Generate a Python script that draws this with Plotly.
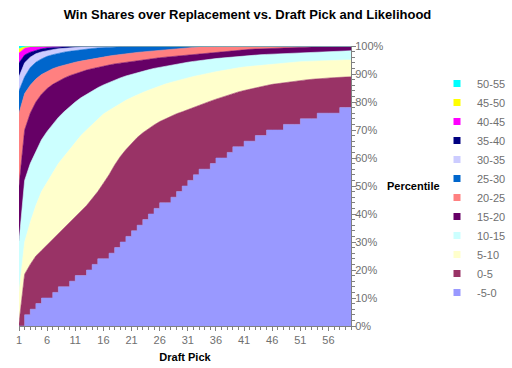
import plotly.graph_objects as go

# Draft picks 1..60
picks = [1, 2, 3, 4, 5, 6, 7, 8, 9, 10,
         11, 12, 13, 14, 15, 16, 17, 18, 19, 20,
         21, 22, 23, 24, 25, 26, 27, 28, 29, 30,
         31, 32, 33, 34, 35, 36, 37, 38, 39, 40,
         41, 42, 43, 44, 45, 46, 47, 48, 49, 50,
         51, 52, 53, 54, 55, 56, 57, 58, 59, 60]

# Cumulative percentile (top edge of each band) per draft pick
cum_m5_0 = [0, 4, 6, 8, 10, 10, 12, 14, 14, 16,
            18, 18, 20, 22, 24, 24, 26, 28, 30, 32,
            34, 36, 38, 40, 42, 44, 44, 46, 48, 50,
            52, 54, 56, 56, 58, 60, 60, 62, 64, 64,
            66, 66, 68, 68, 70, 70, 70, 72, 72, 72,
            74, 74, 74, 76, 76, 76, 76, 78, 78, 78]
cum_0_5 = [1, 18.5, 22, 25, 27, 29, 31, 33, 35, 37,
           39, 41, 43, 45.5, 48, 51, 54, 57.5, 60.5, 63,
           65.3, 67.3, 69, 70.5, 71.8, 73, 74, 75, 75.8, 76.5,
           77.3, 78, 78.8, 79.6, 80.3, 81, 81.7, 82.3, 83, 83.6,
           84.1, 84.6, 85.1, 85.5, 85.9, 86.3, 86.6, 86.9, 87.2, 87.5,
           87.7, 87.9, 88.1, 88.3, 88.5, 88.6, 88.7, 88.8, 88.9, 89]
cum_5_10 = [12, 30, 37, 43, 48, 51.5, 55, 58, 60.5, 63,
            65.5, 68, 70, 72, 74, 75.7, 77, 78.3, 79.5, 80.6,
            81.6, 82.6, 83.4, 84.2, 85, 85.7, 86.4, 87, 87.6, 88.1,
            88.6, 89.1, 89.6, 90, 90.4, 90.8, 91.2, 91.5, 91.9, 92.2,
            92.5, 92.7, 93, 93.2, 93.4, 93.6, 93.8, 94, 94.1, 94.3,
            94.4, 94.5, 94.6, 94.7, 94.8, 94.85, 94.9, 94.95, 95, 95]
cum_10_15 = [30, 52, 58, 62.5, 66.5, 69.5, 72, 74.5, 76.5, 78.3,
             80, 81.5, 82.8, 84, 85.1, 86.1, 87, 87.8, 88.6, 89.3,
             89.9, 90.5, 91, 91.5, 92, 92.4, 92.8, 93.2, 93.5, 93.9,
             94.2, 94.5, 94.8, 95, 95.3, 95.5, 95.7, 95.9, 96.1, 96.3,
             96.45, 96.6, 96.75, 96.9, 97, 97.1, 97.2, 97.3, 97.4, 97.5,
             97.6, 97.7, 97.8, 97.9, 98, 98.05, 98.1, 98.15, 98.2, 98.3]
cum_15_20 = [50, 70, 76, 80, 82.8, 84.8, 86.3, 87.5, 88.5, 89.4,
             90.1, 90.8, 91.4, 91.9, 92.4, 92.8, 93.2, 93.6, 93.9, 94.2,
             94.5, 94.8, 95.1, 95.3, 95.6, 95.8, 96, 96.2, 96.4, 96.6,
             96.8, 97, 97.2, 97.4, 97.6, 97.8, 98, 98.2, 98.4, 98.6,
             98.7, 98.8, 98.9, 99, 99.1, 99.2, 99.3, 99.35, 99.4, 99.45,
             99.5, 99.55, 99.6, 99.65, 99.7, 99.7, 99.75, 99.75, 99.8, 99.8]
cum_20_25 = [76, 83, 86, 88.2, 89.8, 91, 91.9, 92.6, 93.2, 93.7,
             94.2, 94.6, 95, 95.4, 95.8, 96.1, 96.4, 96.7, 97, 97.3,
             97.5, 97.7, 97.9, 98.1, 98.3, 98.5, 98.7, 98.9, 99.05, 99.2,
             99.35, 99.5, 99.6, 99.7, 99.75, 99.8, 99.85, 99.9, 99.9, 99.9,
             99.9, 99.92, 99.94, 99.96, 99.98, 100, 100, 100, 100, 100,
             100, 100, 100, 100, 100, 100, 100, 100, 100, 100]
cum_25_30 = [84, 89, 92.3, 94.2, 95.4, 96.3, 96.9, 97.4, 97.8, 98.1,
             98.4, 98.7, 98.9, 99.1, 99.3, 99.45, 99.6, 99.7, 99.8, 99.85,
             99.9, 99.9, 99.92, 99.94, 99.96, 99.98, 100, 100, 100, 100,
             100, 100, 100, 100, 100, 100, 100, 100, 100, 100,
             100, 100, 100, 100, 100, 100, 100, 100, 100, 100,
             100, 100, 100, 100, 100, 100, 100, 100, 100, 100]
cum_30_35 = [89, 94, 96, 97.2, 97.9, 98.4, 98.7, 99, 99.2, 99.35,
             99.5, 99.6, 99.7, 99.8, 99.85, 99.9, 99.92, 99.94, 99.96, 99.98,
             100, 100, 100, 100, 100, 100, 100, 100, 100, 100,
             100, 100, 100, 100, 100, 100, 100, 100, 100, 100,
             100, 100, 100, 100, 100, 100, 100, 100, 100, 100,
             100, 100, 100, 100, 100, 100, 100, 100, 100, 100]
cum_35_40 = [94, 96.8, 97.8, 98.5, 99, 99.3, 99.5, 99.7, 99.8, 99.85,
             99.9, 99.92, 99.94, 99.96, 99.98, 100, 100, 100, 100, 100,
             100, 100, 100, 100, 100, 100, 100, 100, 100, 100,
             100, 100, 100, 100, 100, 100, 100, 100, 100, 100,
             100, 100, 100, 100, 100, 100, 100, 100, 100, 100,
             100, 100, 100, 100, 100, 100, 100, 100, 100, 100]
cum_40_45 = [97.5, 99.2, 99.6, 99.8, 99.9, 99.95, 100, 100, 100, 100,
             100, 100, 100, 100, 100, 100, 100, 100, 100, 100,
             100, 100, 100, 100, 100, 100, 100, 100, 100, 100,
             100, 100, 100, 100, 100, 100, 100, 100, 100, 100,
             100, 100, 100, 100, 100, 100, 100, 100, 100, 100,
             100, 100, 100, 100, 100, 100, 100, 100, 100, 100]
cum_45_50 = [99, 99.7, 99.9, 100, 100, 100, 100, 100, 100, 100,
             100, 100, 100, 100, 100, 100, 100, 100, 100, 100,
             100, 100, 100, 100, 100, 100, 100, 100, 100, 100,
             100, 100, 100, 100, 100, 100, 100, 100, 100, 100,
             100, 100, 100, 100, 100, 100, 100, 100, 100, 100,
             100, 100, 100, 100, 100, 100, 100, 100, 100, 100]
cum_50_55 = [100, 100, 100, 100, 100, 100, 100, 100, 100, 100,
             100, 100, 100, 100, 100, 100, 100, 100, 100, 100,
             100, 100, 100, 100, 100, 100, 100, 100, 100, 100,
             100, 100, 100, 100, 100, 100, 100, 100, 100, 100,
             100, 100, 100, 100, 100, 100, 100, 100, 100, 100,
             100, 100, 100, 100, 100, 100, 100, 100, 100, 100]

band_names = ["-5-0", "0-5", "5-10", "10-15", "15-20", "20-25",
              "25-30", "30-35", "35-40", "40-45", "45-50", "50-55"]
band_colors = ["#9999FF", "#993366", "#FFFFCC", "#CCFFFF", "#660066", "#FF8080",
               "#0066CC", "#CCCCFF", "#000080", "#FF00FF", "#FFFF00", "#00FFFF"]
band_series = [cum_m5_0, cum_0_5, cum_5_10, cum_10_15, cum_15_20, cum_20_25,
               cum_25_30, cum_30_35, cum_35_40, cum_40_45, cum_45_50, cum_50_55]

x_tick_vals = [1, 6, 11, 16, 21, 26, 31, 36, 41, 46, 51, 56]
y_tick_vals = [0, 10, 20, 30, 40, 50, 60, 70, 80, 90, 100]
y_tick_text = ["0%", "10%", "20%", "30%", "40%", "50%", "60%", "70%", "80%", "90%", "100%"]

FONT = "Liberation Sans, Arial, sans-serif"
GRAY = "#6f6f6f"

fig = go.Figure()
for i, (name, color, vals) in enumerate(zip(band_names, band_colors, band_series)):
    fig.add_trace(go.Scatter(
        x=picks, y=vals, name=name, mode="lines",
        line=dict(color=color, width=0.6, shape="hv" if i == 0 else "linear"),
        fill="tozeroy" if i == 0 else "tonexty",
        fillcolor=color, showlegend=False, hoverinfo="x+y+name",
    ))
# legend swatches
for name, color in zip(band_names, band_colors):
    fig.add_trace(go.Scatter(
        x=[None], y=[None], mode="markers", name=name,
        marker=dict(symbol="square", size=7, color=color, line=dict(width=0)),
        showlegend=True,
    ))

fig.update_layout(
    width=512, height=368,
    margin=dict(l=19, r=161, t=46, b=42, autoexpand=False),
    paper_bgcolor="white", plot_bgcolor="white",
    font=dict(family=FONT, size=11, color=GRAY),
    title=dict(text="<b>Win Shares over Replacement vs. Draft Pick and Likelihood</b>",
               x=247.5 / 512, xanchor="center", xref="container",
               y=1 - 14 / 368, yanchor="middle", yref="container",
               font=dict(family=FONT, size=13, color="black")),
    xaxis=dict(range=[1, 60], tickmode="array", tickvals=x_tick_vals, automargin=False,
               ticks="outside", ticklen=4, tickcolor="#808080",
               showline=True, linecolor="#808080", linewidth=1,
               showgrid=False, zeroline=False,
               minor=dict(dtick=1, tick0=1, ticks="outside", ticklen=3, tickcolor="#808080", showgrid=False),
               tickfont=dict(size=11, color=GRAY),
               title=dict(text="<b>Draft Pick</b>", font=dict(size=11, color="black"), standoff=8)),
    yaxis=dict(range=[0, 100], side="right", tickmode="array", tickvals=y_tick_vals,
               ticktext=y_tick_text, automargin=False, ticklabelstandoff=-3,
               ticks="outside", ticklen=4, tickcolor="#808080",
               showline=True, linecolor="#808080", linewidth=1,
               showgrid=False, zeroline=False,
               minor=dict(dtick=2, ticks="outside", ticklen=3, tickcolor="#808080", showgrid=False),
               tickfont=dict(size=11, color=GRAY)),
    legend=dict(x=437 / 512, xref="container", xanchor="left",
                y=1 - 188 / 368, yref="container", yanchor="middle",
                traceorder="reversed", font=dict(size=11, color=GRAY),
                bgcolor="rgba(0,0,0,0)", tracegroupgap=0, borderwidth=0,
                maxheight=330),
    annotations=[dict(text="<b>Percentile</b>", xref="paper", yref="paper",
                      x=(412.5 - 19) / 331, y=0.5, xanchor="center", yanchor="middle",
                      showarrow=False, font=dict(size=11, color="black", family=FONT))],
)

fig.write_html("out.html", config={"displayModeBar": False},
               post_script="document.body.style.margin='0';")
